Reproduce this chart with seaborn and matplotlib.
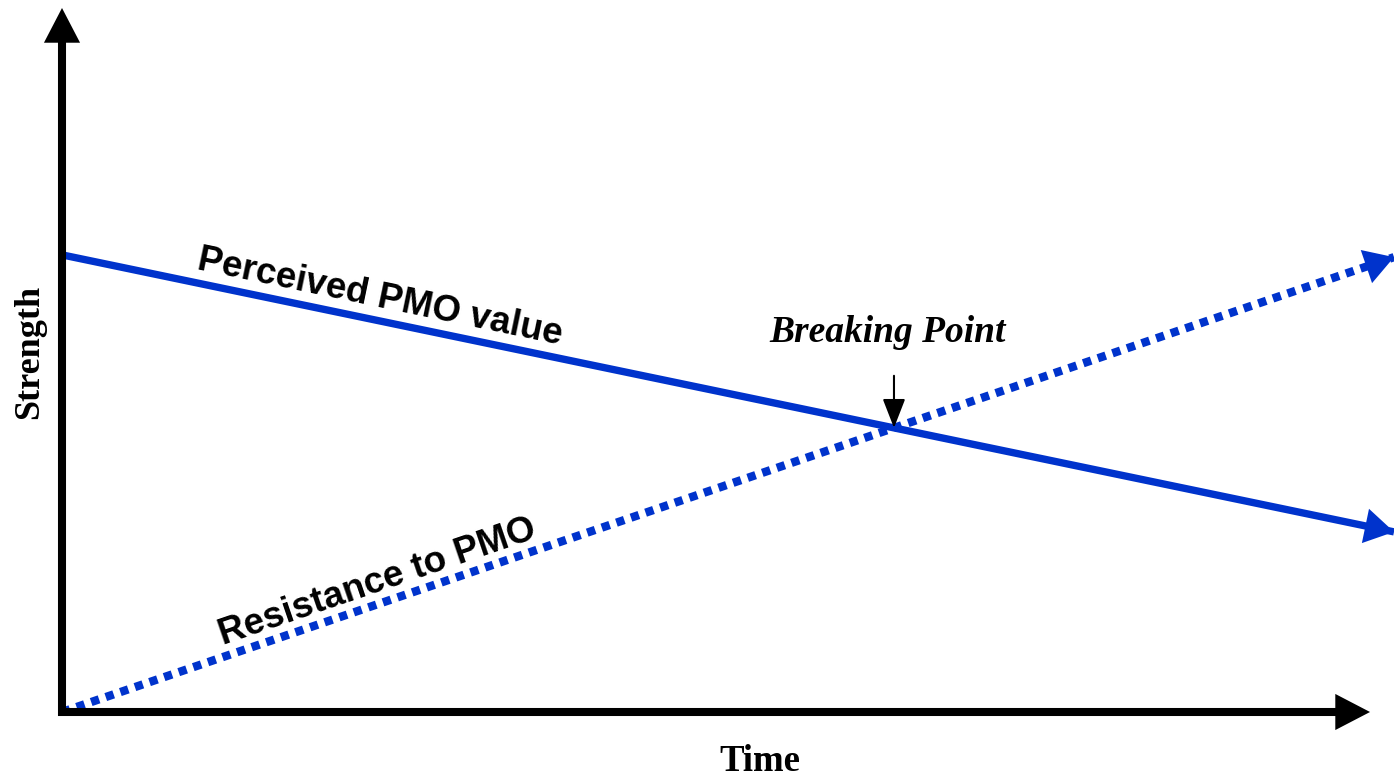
import numpy as np
import pandas as pd
import matplotlib
matplotlib.use("Agg")
import matplotlib.pyplot as plt
import seaborn as sns

# ---- data ----
time = [0.0, 10.0]
perceived_value = [10.0, 3.94]
resistance = [0.0, 9.95]
label_perceived = "Perceived PMO value"
label_resistance = "Resistance to PMO"
label_break = "Breaking Point"
x_label = "Time"
y_label = "Strength"

BLUE = "#0033cc"
SERIF = ["Liberation Serif", "DejaVu Serif"]

sns.set_theme(style="white")
plt.rcParams["font.family"] = ["Liberation Sans", "DejaVu Sans"]

fig = plt.figure(figsize=(13.94, 7.78), dpi=100)
ax = fig.add_axes([62 / 1394, 66 / 778, 1332 / 1394, 704 / 778])
ax.set_xlim(0, 10)
ax.set_ylim(0, 15.4)
for s in ax.spines.values():
    s.set_visible(False)
ax.set_xticks([])
ax.set_yticks([])
ax.patch.set_alpha(0)

df = pd.DataFrame({"time": time, "perceived": perceived_value, "resistance": resistance})

sns.lineplot(data=df, x="time", y="perceived", ax=ax, color=BLUE, lw=5.3,
             solid_capstyle="butt", clip_on=False)
sns.lineplot(data=df, x="time", y="resistance", ax=ax, color=BLUE, lw=6.0,
             linestyle=(0, (1.0, 0.85)), dash_capstyle="butt", clip_on=False)
ax.set_xlabel("")
ax.set_ylabel("")

# arrowheads at end of lines
for series in (perceived_value, resistance):
    x0, x1 = time
    y0, y1 = series
    xb = x1 - 0.3
    yb = y0 + (y1 - y0) * (xb - x0) / (x1 - x0)
    ax.annotate("", xy=(x1, y1), xytext=(xb, yb),
                arrowprops=dict(arrowstyle="-|>,head_length=1.0,head_width=0.6",
                                mutation_scale=21, color=BLUE, lw=0,
                                shrinkA=0, shrinkB=0), annotation_clip=False)

# axes with arrows
ax.plot([0, 0], [-0.09, 15.0], color="black", lw=5.8, solid_capstyle="butt", clip_on=False)
ax.plot([-0.03, 9.7], [0, 0], color="black", lw=5.8, solid_capstyle="butt", clip_on=False)
ax.annotate("", xy=(0, 1.0), xytext=(0, 0.95), xycoords="axes fraction",
            arrowprops=dict(arrowstyle="-|>,head_length=1.0,head_width=0.52",
                            mutation_scale=25, color="black", lw=0, shrinkA=0, shrinkB=0),
            annotation_clip=False)
ax.annotate("", xy=(0.982, 0), xytext=(0.95, 0), xycoords="axes fraction",
            arrowprops=dict(arrowstyle="-|>,head_length=1.0,head_width=0.52",
                            mutation_scale=25, color="black", lw=0, shrinkA=0, shrinkB=0),
            annotation_clip=False)

# angles of the lines on screen
def screen_angle(xs, ys):
    p = ax.transData.transform(np.column_stack([xs, ys]))
    return np.degrees(np.arctan2(p[1, 1] - p[0, 1], p[1, 0] - p[0, 0]))

ang_p = screen_angle(time, perceived_value)
ang_r = screen_angle(time, resistance)

ax.text(2.39, 9.06, label_perceived, rotation=ang_p, rotation_mode="anchor",
        ha="center", va="center", fontsize=26.5, fontweight="bold", color="black")
ax.text(2.37, 2.84, label_resistance, rotation=ang_r, rotation_mode="anchor",
        ha="center", va="center", fontsize=26.5, fontweight="bold", color="black")

# breaking point
sp = (perceived_value[1] - perceived_value[0]) / (time[1] - time[0])
sr = (resistance[1] - resistance[0]) / (time[1] - time[0])
tx = (perceived_value[0] - resistance[0]) / (sr - sp)
ty = resistance[0] + sr * tx
ax.annotate("", xy=(tx, ty), xytext=(tx, ty + 1.14),
            arrowprops=dict(arrowstyle="-|>,head_length=0.9,head_width=0.35",
                            mutation_scale=20, color="black", lw=1.5,
                            shrinkA=0, shrinkB=0))
ax.text(tx - 0.05, ty + 2.08, label_break, ha="center", va="center",
        fontsize=27, fontweight="bold", fontstyle="italic",
        family=SERIF, color="black")

ax.text(0.524, -0.071, x_label, transform=ax.transAxes, ha="center", va="center",
        fontsize=26.5, fontweight="bold", family=SERIF, color="black")
ax.text(-0.024, 0.511, y_label, transform=ax.transAxes, ha="center", va="center",
        rotation=90, fontsize=26, fontweight="bold", family=SERIF, color="black")

fig.savefig("out.png", dpi=100)
